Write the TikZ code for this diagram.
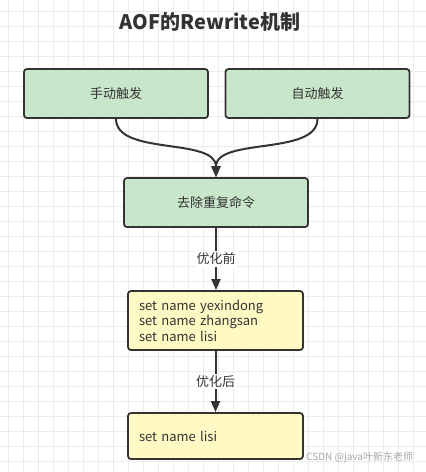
\documentclass[tikz,border=0pt]{standalone}
\usepackage{fontspec}
\setmainfont{Noto Sans CJK SC}
\usetikzlibrary{arrows.meta}
\definecolor{gridc}{HTML}{EBEBEB}
\definecolor{greenf}{HTML}{C8E6C9}
\definecolor{yellowf}{HTML}{FFF9C4}
\definecolor{edgec}{HTML}{333333}
\definecolor{markc}{HTML}{A8A8A8}
\begin{document}
\begin{tikzpicture}[x=1pt,y=-1pt,
  box/.style={draw=edgec, line width=1.8pt, rounded corners=3pt, text=edgec,
    font=\fontsize{13}{15.5}\selectfont, inner sep=0pt},
  gbox/.style={box, fill=greenf, minimum width=184pt, minimum height=49pt},
  ybox/.style={box, fill=yellowf, minimum width=175pt, text width=153pt, align=left},
  conn/.style={draw=edgec, line width=2pt, -{Triangle[length=11pt,width=9pt]}},
  lbl/.style={fill=white, text=edgec, font=\fontsize{13}{15}\selectfont, inner sep=1.5pt}]
\useasboundingbox[fill=white] (0,0) rectangle (426,472);
% grid
\foreach \i in {0,...,27} \draw[gridc, line width=0.8pt] ({8+15*\i},0) -- ({8+15*\i},472);
\foreach \j in {0,...,30} \draw[gridc, line width=0.8pt] (0,{11.7+15*\j}) -- (426,{11.7+15*\j});
% title
\node[text=edgec, font=\fontsize{20}{24}\selectfont\bfseries] (title) at (210,22) {AOF的Rewrite机制};
% boxes
\node[gbox] (b1) at (116,93.5) {手动触发};
\node[gbox] (b2) at (317.5,93.5) {自动触发};
\node[gbox] (b3) at (216,202.5) {去除重复命令};
\node[ybox, minimum height=59pt] (b4) at (215.5,320.5) {set name yexindong\\set name zhangsan\\set name lisi};
\node[ybox, minimum height=46pt] (b5) at (215.5,436) {set name lisi};
% connectors
\draw[conn] (b1.south) .. controls +(0,37) and +(0,-40) .. (b3.north);
\draw[conn] (b2.south) .. controls +(0,37) and +(0,-40) .. (b3.north);
\draw[conn] (b3.south) -- node[lbl] (l1) {优化前} (b3.south |- b4.north);
\draw[conn] (b4.south) -- node[lbl] (l2) {优化后} (b4.south |- b5.north);
% watermark
\node[text=markc, font=\fontsize{10}{12}\selectfont, anchor=west, inner sep=0pt] (wm) at (306,457) {CSDN @java叶新东老师};
\end{tikzpicture}
\end{document}
